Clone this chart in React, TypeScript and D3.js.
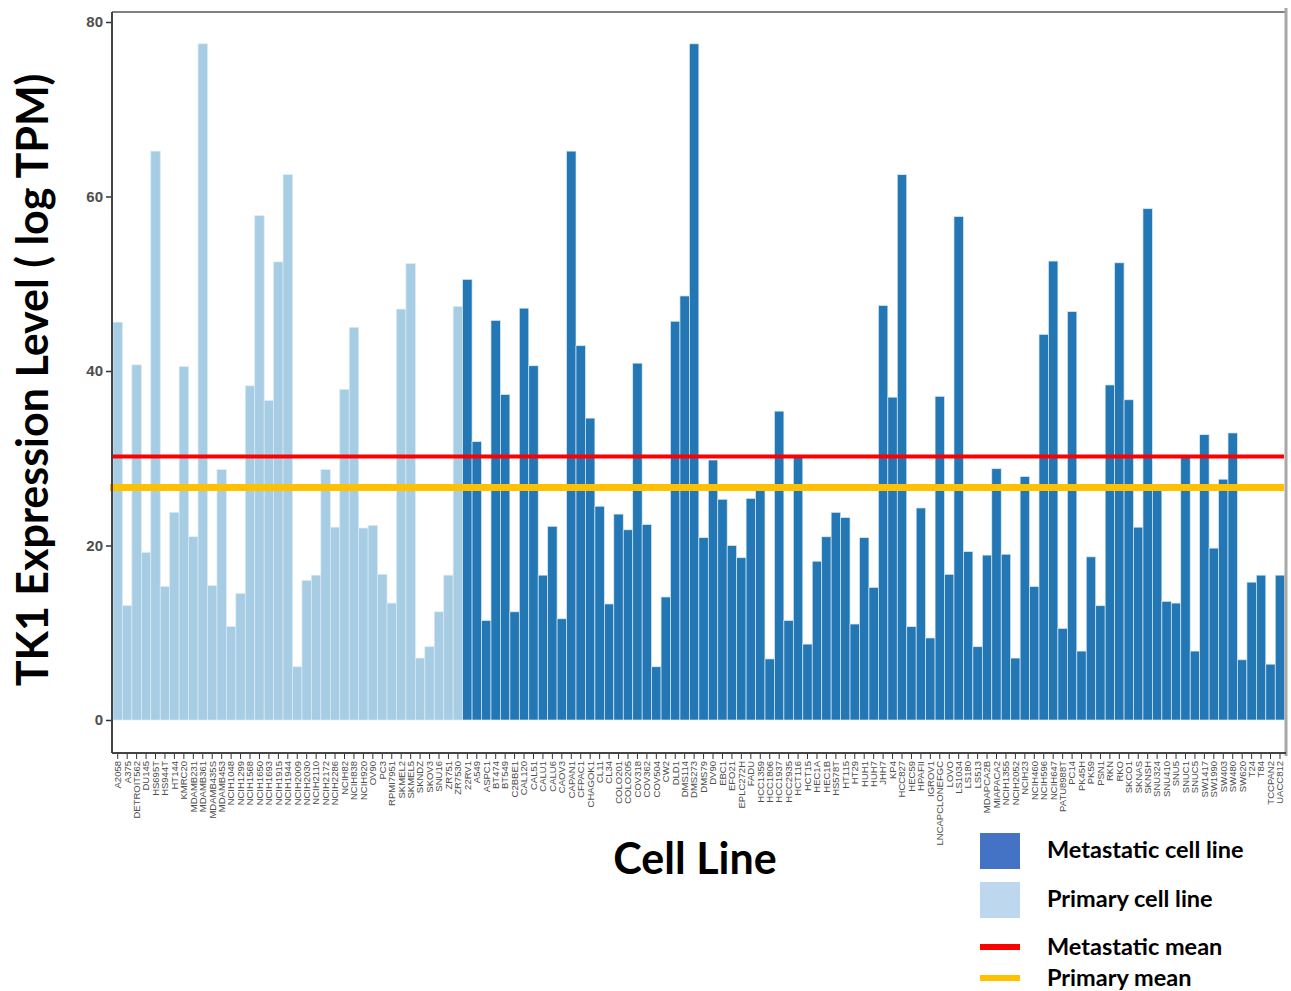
import React, { useEffect, useRef } from 'react';
import * as d3 from 'd3';

// Primary cell lines (light bars)
const primaryLines = [
  'A2058', 'A375', 'DETROIT562', 'DU145', 'HS695T', 'HS944T', 'HT144', 'KMRC20',
  'MDAMB231', 'MDAMB361', 'MDAMB435S', 'MDAMB453', 'NCIH1048', 'NCIH1299', 'NCIH1568',
  'NCIH1650', 'NCIH1693', 'NCIH1915', 'NCIH1944', 'NCIH2009', 'NCIH2030', 'NCIH2110',
  'NCIH2172', 'NCIH2286', 'NCIH82', 'NCIH838', 'NCIH920', 'OV90', 'PC3', 'RPMI7951',
  'SKMEL2', 'SKMEL5', 'SKNDZ', 'SKOV3', 'SNU16', 'ZR751', 'ZR7530',
];
const primaryValues = [
  45.6, 13.1, 40.7, 19.2, 65.2, 15.3, 23.8, 40.5, 21.0, 77.5,
  15.4, 28.7, 10.7, 14.5, 38.3, 57.8, 36.6, 52.5, 62.5, 6.1,
  16.0, 16.6, 28.7, 22.1, 37.9, 45.0, 22.0, 22.3, 16.7, 13.4,
  47.1, 52.3, 7.1, 8.4, 12.4, 16.6, 47.4,
];

// Metastatic cell lines (dark bars)
const metastaticLines = [
  '22RV1', 'A549', 'ASPC1', 'BT474', 'BT549', 'C2BBE1', 'CAL120', 'CAL51', 'CALU1', 'CALU6',
  'CAOV3', 'CAPAN1', 'CFPAC1', 'CHAGOK1', 'CL11', 'CL34', 'COLO201', 'COLO205', 'COV318', 'COV362',
  'COV504', 'CW2', 'DLD1', 'DMS114', 'DMS273', 'DMS79', 'DV90', 'EBC1', 'EFO21', 'EPLC272H',
  'FADU', 'HCC1359', 'HCC1806', 'HCC1937', 'HCC2935', 'HCT116', 'HCT15', 'HEC1A', 'HEC1B', 'HS578T',
  'HT115', 'HT29', 'HUH1', 'HUH7', 'JHH7', 'KP4', 'HCC827', 'HEC59', 'HPAFII', 'IGROV1',
  'LNCAPCLONEFGC', 'LOVO', 'LS1034', 'LS180', 'LS513', 'MDAPCA2B', 'MIAPACA2', 'NCIH1355', 'NCIH2052', 'NCIH23',
  'NCIH460', 'NCIH596', 'NCIH647', 'PATU8988T', 'PC14', 'PK45H', 'PK59', 'PSN1', 'RKN', 'RKO',
  'SKCO1', 'SKNAS', 'SKNSH', 'SNU324', 'SNU410', 'SNU5', 'SNUC1', 'SNUC5', 'SW1417', 'SW1990',
  'SW403', 'SW480', 'SW620', 'T24', 'T84', 'TCCPAN2', 'UACC812',
];
const metastaticValues = [
  50.5, 31.9, 11.4, 45.8, 37.3, 12.4, 47.2, 40.6, 16.6, 22.2,
  11.6, 65.2, 42.9, 34.6, 24.5, 13.3, 23.6, 21.8, 40.9, 22.4,
  6.1, 14.1, 45.7, 48.6, 77.5, 20.9, 29.8, 25.3, 20.0, 18.6,
  25.4, 26.3, 7.0, 35.4, 11.4, 30.1, 8.7, 18.2, 21.0, 23.8,
  23.2, 11.0, 20.9, 15.2, 47.5, 37.0, 62.5, 10.7, 24.3, 9.4,
  37.1, 16.7, 57.7, 19.3, 8.4, 18.9, 28.8, 19.0, 7.1, 27.9,
  15.3, 44.2, 52.6, 10.5, 46.8, 7.9, 18.7, 13.1, 38.4, 52.4,
  36.7, 22.1, 58.6, 26.4, 13.6, 13.4, 30.1, 7.9, 32.7, 19.7,
  27.6, 32.9, 6.9, 15.8, 16.6, 6.4, 16.6,
];

const yTicks = [0, 20, 40, 60, 80];

const legendItems = [
  { label: 'Metastatic cell line', kind: 'box', color: '#4472c4' },
  { label: 'Primary cell line', kind: 'box', color: '#bdd7ee' },
  { label: 'Metastatic mean', kind: 'line', color: '#ff0000' },
  { label: 'Primary mean', kind: 'line', color: '#ffc000' },
];

const TK1Chart = () => {
  const ref = useRef<SVGSVGElement | null>(null);

  useEffect(() => {
    if (!ref.current) return;
    const svg = d3.select(ref.current);
    svg.selectAll('*').remove();

    const data = [
      ...primaryLines.map((name, i) => ({ name, value: primaryValues[i], group: 'primary' })),
      ...metastaticLines.map((name, i) => ({ name, value: metastaticValues[i], group: 'metastatic' })),
    ];

    const left = 112, right = 1286, top = 12, bottom = 753;

    const x = d3.scaleBand()
      .domain(data.map(d => d.name))
      .range([113, 1284.7])
      .paddingInner(0);

    const y = d3.scaleLinear()
      .domain([0, 80])
      .range([720, 22]);

    // bars
    svg.append('g')
      .selectAll('rect')
      .data(data)
      .enter().append('rect')
      .attr('x', d => x(d.name) as number)
      .attr('width', x.bandwidth())
      .attr('y', d => y(d.value))
      .attr('height', d => y(0) - y(d.value))
      .attr('fill', d => d.group === 'primary' ? '#a6cde3' : '#2277b4')
      .attr('stroke', '#dceaf4')
      .attr('stroke-width', 0.7);

    // mean lines (drawn as in the figure)
    const redMean = d3.mean(primaryValues) as number;
    const yellowMean = d3.mean(metastaticValues) as number;
    svg.append('line')
      .attr('x1', 113).attr('x2', 1284)
      .attr('y1', y(redMean)).attr('y2', y(redMean))
      .attr('stroke', '#ff0000').attr('stroke-width', 4);
    svg.append('line')
      .attr('x1', 110).attr('x2', 1284)
      .attr('y1', y(yellowMean)).attr('y2', y(yellowMean))
      .attr('stroke', '#ffc000').attr('stroke-width', 7);

    // frame
    svg.append('line').attr('x1', left).attr('x2', right).attr('y1', top).attr('y2', top)
      .attr('stroke', '#555').attr('stroke-width', 1.5);
    svg.append('line').attr('x1', right).attr('x2', right).attr('y1', 8).attr('y2', 756)
      .attr('stroke', '#a8a8a8').attr('stroke-width', 3);

    // y axis
    const yAxis = svg.append('g')
      .attr('transform', `translate(${left},0)`)
      .call(d3.axisLeft(y).tickValues(yTicks).tickSize(6).tickPadding(3));
    yAxis.select('.domain').remove();
    yAxis.selectAll('.tick line').attr('stroke', '#333').attr('stroke-width', 1.5);
    yAxis.selectAll('text')
      .attr('fill', '#4d4d4d')
      .style('font-size', '15px')
      .style('font-weight', 'bold')
      .style('font-family', 'Liberation Sans, Arial, sans-serif');
    svg.append('line').attr('x1', left).attr('x2', left).attr('y1', top).attr('y2', bottom)
      .attr('stroke', '#444').attr('stroke-width', 2);

    // x axis
    const xAxis = svg.append('g')
      .attr('transform', `translate(0,${bottom})`)
      .call(d3.axisBottom(x).tickSize(6));
    xAxis.select('.domain').remove();
    xAxis.selectAll('.tick line').attr('stroke', '#333');
    xAxis.selectAll('text')
      .attr('transform', 'rotate(-90)')
      .attr('x', -8)
      .attr('y', 0)
      .attr('dy', '0.35em')
      .style('text-anchor', 'end')
      .attr('fill', '#4d4d4d')
      .style('font-size', '9.5px')
      .style('font-family', 'Liberation Sans, Arial, sans-serif');
    svg.append('line').attr('x1', left).attr('x2', right).attr('y1', bottom).attr('y2', bottom)
      .attr('stroke', '#444').attr('stroke-width', 2);

    // titles
    svg.append('text')
      .attr('transform', 'translate(48,380) rotate(-90)')
      .attr('text-anchor', 'middle')
      .style('font-family', 'Lato, sans-serif')
      .style('font-weight', 'bold')
      .style('font-size', '43px')
      .attr('fill', '#000')
      .text('TK1 Expression Level ( log TPM)');

    svg.append('text')
      .attr('x', 695).attr('y', 874)
      .attr('text-anchor', 'middle')
      .style('font-family', 'Lato, sans-serif')
      .style('font-weight', 'bold')
      .style('font-size', '43px')
      .attr('fill', '#000')
      .text('Cell Line');

    // legend
    const legend = svg.append('g');
    const rowY = [850, 899, 947, 978];
    legendItems.forEach((item, i) => {
      if (item.kind === 'box') {
        legend.append('rect')
          .attr('x', 980).attr('y', rowY[i] - 17)
          .attr('width', 40).attr('height', 36)
          .attr('fill', item.color);
      } else {
        legend.append('line')
          .attr('x1', 980).attr('x2', 1020)
          .attr('y1', rowY[i]).attr('y2', rowY[i])
          .attr('stroke', item.color).attr('stroke-width', 6);
      }
      legend.append('text')
        .attr('x', 1047).attr('y', rowY[i] + 8)
        .style('font-family', 'Lato, sans-serif')
        .style('font-weight', 'bold')
        .style('font-size', '23.5px')
        .attr('fill', '#000')
        .text(item.label);
    });
  }, []);

  return (
    <div style={{ position: 'absolute', left: 0, top: 0 }}>
      <svg ref={ref} width={1291} height={991} style={{ display: 'block', background: '#fff' }} />
    </div>
  );
};

export default function App() {
  return <TK1Chart />;
}
